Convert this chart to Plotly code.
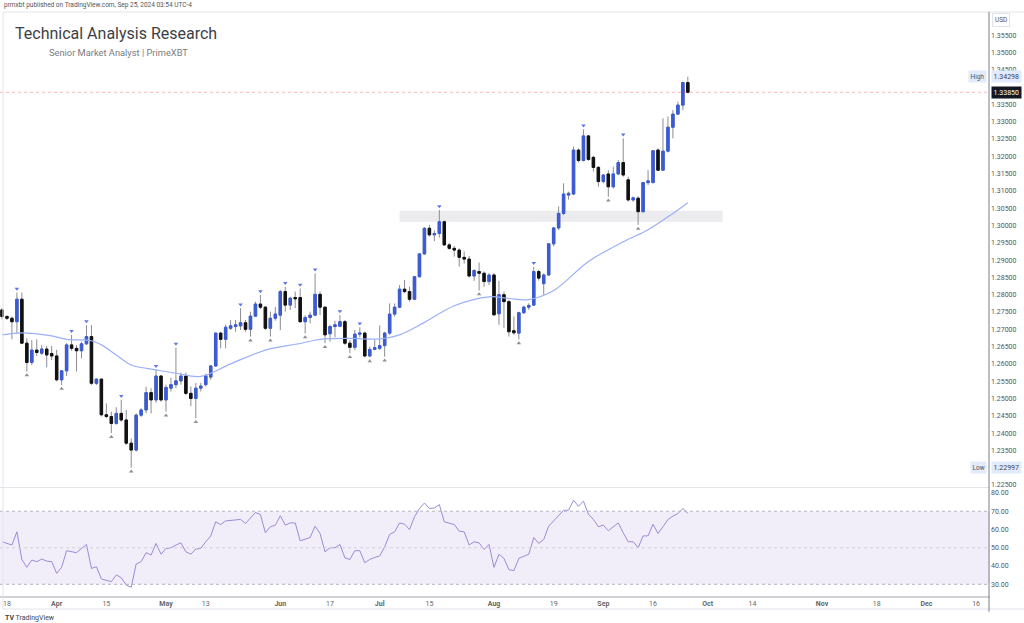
import numpy as np
import pandas as pd
import plotly.graph_objects as go
from plotly.subplots import make_subplots

# daily candles, GBP/USD style, Mar 15 -> Sep 25 2024 (weekdays)
dates = pd.bdate_range("2024-03-15", "2024-09-25")

opens = [1.2756, 1.2737, 1.2732, 1.2722, 1.2787, 1.2660, 1.2604, 1.2640, 1.2631, 1.2643,
         1.2630, 1.2623, 1.2554, 1.2580, 1.2655, 1.2645, 1.2638, 1.2658, 1.2679, 1.2544,
         1.2556, 1.2453, 1.2448, 1.2428, 1.2457, 1.2438, 1.2371, 1.2351, 1.2452, 1.2467,
         1.2517, 1.2496, 1.2565, 1.2496, 1.2530, 1.2540, 1.2551, 1.2565, 1.2515, 1.2500,
         1.2530, 1.2540, 1.2562, 1.2594, 1.2689, 1.2671, 1.2703, 1.2708, 1.2710, 1.2719,
         1.2700, 1.2738, 1.2773, 1.2764, 1.2703, 1.2732, 1.2741, 1.2809, 1.2770, 1.2792,
         1.2792, 1.2722, 1.2734, 1.2741, 1.2801, 1.2764, 1.2687, 1.2708, 1.2709, 1.2722,
         1.2660, 1.2648, 1.2686, 1.2689, 1.2623, 1.2642, 1.2645, 1.2653, 1.2689, 1.2744,
         1.2764, 1.2816, 1.2809, 1.2787, 1.2852, 1.2918, 1.2992, 1.2973, 1.2977, 1.3011,
         1.2944, 1.2934, 1.2929, 1.2908, 1.2903, 1.2854, 1.2867, 1.2862, 1.2838, 1.2857,
         1.2745, 1.2800, 1.2780, 1.2696, 1.2689, 1.2748, 1.2764, 1.2770, 1.2867, 1.2832,
         1.2857, 1.2947, 1.2993, 1.3035, 1.3088, 1.3091, 1.3218, 1.3188, 1.3259, 1.3197,
         1.3168, 1.3127, 1.3149, 1.3112, 1.3149, 1.3182, 1.3132, 1.3074, 1.3079, 1.3040,
         1.3124, 1.3124, 1.3218, 1.3160, 1.3215, 1.3284, 1.3322, 1.3348, 1.3413]
highs = [1.2761, 1.2741, 1.2737, 1.2806, 1.2806, 1.2674, 1.2669, 1.2671, 1.2655, 1.2652,
         1.2652, 1.2641, 1.2582, 1.2660, 1.2684, 1.2655, 1.2664, 1.2712, 1.2712, 1.2558,
         1.2558, 1.2486, 1.2462, 1.2475, 1.2496, 1.2467, 1.2385, 1.2457, 1.2472, 1.2534,
         1.2530, 1.2583, 1.2568, 1.2540, 1.2560, 1.2647, 1.2575, 1.2575, 1.2535, 1.2545,
         1.2545, 1.2572, 1.2597, 1.2690, 1.2693, 1.2713, 1.2727, 1.2727, 1.2761, 1.2727,
         1.2751, 1.2780, 1.2799, 1.2767, 1.2751, 1.2765, 1.2814, 1.2823, 1.2794, 1.2809,
         1.2818, 1.2741, 1.2751, 1.2862, 1.2809, 1.2766, 1.2713, 1.2725, 1.2741, 1.2727,
         1.2669, 1.2698, 1.2706, 1.2693, 1.2650, 1.2669, 1.2711, 1.2693, 1.2775, 1.2775,
         1.2828, 1.2843, 1.2823, 1.2854, 1.2920, 1.2995, 1.3002, 1.2986, 1.3045, 1.3014,
         1.2949, 1.2941, 1.2934, 1.2925, 1.2912, 1.2874, 1.2893, 1.2867, 1.2862, 1.2862,
         1.2840, 1.2809, 1.2785, 1.2737, 1.2751, 1.2768, 1.2775, 1.2881, 1.2872, 1.2862,
         1.2949, 1.2995, 1.3055, 1.3122, 1.3098, 1.3228, 1.3223, 1.3278, 1.3262, 1.3201,
         1.3172, 1.3149, 1.3160, 1.3170, 1.3189, 1.3252, 1.3141, 1.3084, 1.3084, 1.3126,
         1.3160, 1.3218, 1.3223, 1.3310, 1.3315, 1.3334, 1.3358, 1.3416, 1.3430]
lows = [1.2729, 1.2727, 1.2671, 1.2688, 1.2658, 1.2578, 1.2597, 1.2623, 1.2626, 1.2590,
        1.2611, 1.2550, 1.2539, 1.2565, 1.2638, 1.2578, 1.2616, 1.2655, 1.2539, 1.2539,
        1.2448, 1.2443, 1.2400, 1.2424, 1.2433, 1.2366, 1.2300, 1.2347, 1.2447, 1.2457,
        1.2457, 1.2488, 1.2491, 1.2462, 1.2520, 1.2530, 1.2540, 1.2510, 1.2478, 1.2443,
        1.2520, 1.2535, 1.2554, 1.2592, 1.2645, 1.2645, 1.2698, 1.2693, 1.2698, 1.2693,
        1.2679, 1.2737, 1.2758, 1.2698, 1.2679, 1.2725, 1.2698, 1.2751, 1.2756, 1.2761,
        1.2719, 1.2688, 1.2717, 1.2738, 1.2741, 1.2660, 1.2664, 1.2677, 1.2706, 1.2655,
        1.2631, 1.2640, 1.2677, 1.2619, 1.2619, 1.2640, 1.2640, 1.2621, 1.2684, 1.2737,
        1.2761, 1.2804, 1.2780, 1.2785, 1.2850, 1.2915, 1.2968, 1.2955, 1.2965, 1.2941,
        1.2930, 1.2910, 1.2881, 1.2890, 1.2850, 1.2840, 1.2812, 1.2823, 1.2828, 1.2739,
        1.2713, 1.2704, 1.2679, 1.2684, 1.2671, 1.2744, 1.2756, 1.2768, 1.2841, 1.2800,
        1.2855, 1.2940, 1.2987, 1.3030, 1.3075, 1.3088, 1.3182, 1.3185, 1.3187, 1.3156,
        1.3112, 1.3122, 1.3083, 1.3107, 1.3146, 1.3141, 1.3069, 1.3069, 1.3002, 1.3037,
        1.3117, 1.3122, 1.3158, 1.3158, 1.3211, 1.3252, 1.3319, 1.3333, 1.3382]
closes = [1.2737, 1.2732, 1.2722, 1.2787, 1.2660, 1.2604, 1.2640, 1.2633, 1.2643, 1.2626,
          1.2623, 1.2554, 1.2580, 1.2655, 1.2645, 1.2638, 1.2658, 1.2679, 1.2544, 1.2556,
          1.2453, 1.2448, 1.2428, 1.2457, 1.2438, 1.2371, 1.2351, 1.2452, 1.2467, 1.2517,
          1.2496, 1.2565, 1.2496, 1.2532, 1.2540, 1.2551, 1.2565, 1.2515, 1.2500, 1.2530,
          1.2536, 1.2566, 1.2594, 1.2689, 1.2671, 1.2706, 1.2710, 1.2713, 1.2719, 1.2700,
          1.2738, 1.2773, 1.2764, 1.2703, 1.2732, 1.2744, 1.2809, 1.2770, 1.2790, 1.2788,
          1.2722, 1.2734, 1.2741, 1.2801, 1.2764, 1.2684, 1.2708, 1.2713, 1.2722, 1.2660,
          1.2648, 1.2686, 1.2689, 1.2623, 1.2642, 1.2647, 1.2653, 1.2689, 1.2744, 1.2764,
          1.2816, 1.2809, 1.2787, 1.2852, 1.2918, 1.2992, 1.2973, 1.2977, 1.3011, 1.2944,
          1.2934, 1.2929, 1.2908, 1.2903, 1.2854, 1.2870, 1.2862, 1.2838, 1.2857, 1.2742,
          1.2800, 1.2780, 1.2693, 1.2690, 1.2748, 1.2764, 1.2769, 1.2867, 1.2848, 1.2857,
          1.2947, 1.2993, 1.3035, 1.3091, 1.3093, 1.3218, 1.3188, 1.3259, 1.3191, 1.3168,
          1.3127, 1.3146, 1.3112, 1.3149, 1.3182, 1.3146, 1.3074, 1.3080, 1.3040, 1.3124,
          1.3129, 1.3216, 1.3160, 1.3215, 1.3284, 1.3322, 1.3348, 1.3413, 1.3385]

# RSI(14)
rsi = [53.3, 52.4, 51.5, 58.7, 43.6, 39.3, 43.3, 42.4, 43.8, 42.7,
       42.4, 36.0, 39.3, 48.4, 47.8, 47.3, 49.6, 51.8, 38.7, 39.6,
       32.9, 32.4, 31.5, 35.1, 33.6, 29.6, 28.4, 41.1, 42.4, 47.3,
       46.0, 52.4, 46.5, 49.6, 50.0, 51.5, 52.7, 47.8, 46.5, 49.3,
       49.6, 53.3, 56.4, 64.2, 62.7, 64.7, 65.1, 65.1, 65.5, 63.3,
       66.5, 69.3, 68.2, 58.2, 61.5, 62.4, 67.5, 62.4, 63.6, 63.6,
       53.8, 54.5, 55.6, 61.8, 57.8, 47.8, 50.0, 50.0, 51.8, 44.5,
       43.6, 48.4, 48.4, 41.8, 43.6, 44.7, 45.5, 50.5, 57.3, 58.7,
       63.6, 62.9, 60.0, 66.9, 71.5, 74.5, 71.5, 71.8, 73.6, 64.2,
       63.3, 62.7, 59.1, 58.7, 51.5, 53.3, 52.7, 49.1, 51.8, 39.3,
       46.5, 44.2, 38.0, 37.5, 44.2, 45.5, 46.5, 55.6, 52.4, 54.5,
       61.8, 64.7, 67.8, 70.5, 70.5, 76.0, 72.7, 75.5, 68.4, 65.5,
       61.5, 62.4, 59.3, 61.5, 63.6, 58.2, 53.3, 53.3, 50.0, 56.5,
       56.5, 62.9, 57.8, 61.5, 65.5, 67.3, 68.7, 71.5, 68.7]

# moving average, sampled along the light blue line
ma_idx = [0, 4, 10, 13, 18, 20, 23, 26, 31, 35, 40, 46, 53, 60, 64, 70, 76, 80, 85,
          91, 98, 102, 106, 111, 118, 125, 130, 135, 138]
ma_vals = [1.2684, 1.2690, 1.2681, 1.2671, 1.2667, 1.2655, 1.2626, 1.2597, 1.2583,
           1.2573, 1.2564, 1.2600, 1.2640, 1.2659, 1.2671, 1.2674, 1.2672, 1.2684,
           1.2720, 1.2768, 1.2794, 1.2789, 1.2786, 1.2812, 1.2896, 1.2953, 1.2988,
           1.3035, 1.3066]

# fractal marks
frac_high_idx = [3, 14, 17, 24, 31, 35, 48, 52, 57, 60, 63, 68, 72, 88, 107, 117, 125]
frac_low_idx = [5, 12, 22, 26, 33, 39, 50, 54, 61, 65, 70, 74, 77, 96, 104, 122, 128]

zone_low, zone_high = 1.3011, 1.3043
zone_start, zone_end = "2024-07-05", "2024-10-04"
last_price, range_high, range_low = 1.33850, 1.34298, 1.22997

tick_dates = ["2024-03-18", "2024-04-01", "2024-04-15", "2024-05-01", "2024-05-13",
              "2024-06-03", "2024-06-17", "2024-07-01", "2024-07-15", "2024-08-01",
              "2024-08-19", "2024-09-02", "2024-09-16", "2024-10-01", "2024-10-14",
              "2024-11-01", "2024-11-18", "2024-12-02", "2024-12-16"]
tick_text = ["18", "<b>Apr</b>", "15", "<b>May</b>", "13", "<b>Jun</b>", "17", "<b>Jul</b>",
             "15", "<b>Aug</b>", "19", "<b>Sep</b>", "16", "<b>Oct</b>", "14", "<b>Nov</b>",
             "18", "<b>Dec</b>", "16"]
# 1.230 and 1.340 sit under the Low / last-price labels, so they are not shown
price_ticks = [round(1.225 + 0.005 * i, 3) for i in range(27)]
price_ticks = [t for t in price_ticks if t not in (1.23, 1.34)]
rsi_ticks = [30, 40, 50, 60, 70, 80]

BLUE = "#3b5bd6"
BLACK = "#111111"
WICK = "#8a8d96"
FONT = "Roboto"

o = np.array(opens)
c = np.array(closes)

fig = make_subplots(rows=2, cols=1, shared_xaxes=True, vertical_spacing=0.0)

# wicks (grey)
fig.add_trace(go.Candlestick(
    x=dates, open=opens, high=highs, low=lows, close=closes,
    increasing=dict(line=dict(color=WICK, width=1), fillcolor=WICK),
    decreasing=dict(line=dict(color=WICK, width=1), fillcolor=WICK),
    hoverinfo="skip", showlegend=False), row=1, col=1)
# bodies
fig.add_trace(go.Candlestick(
    x=dates, open=opens, close=closes,
    high=np.maximum(o, c), low=np.minimum(o, c),
    increasing=dict(line=dict(color=BLUE, width=1), fillcolor=BLUE),
    decreasing=dict(line=dict(color=BLACK, width=1), fillcolor=BLACK),
    showlegend=False), row=1, col=1)

fig.add_trace(go.Scatter(
    x=dates[ma_idx], y=ma_vals, mode="lines",
    line=dict(color="#9bb0f7", width=1.2, shape="spline"),
    hoverinfo="skip", showlegend=False), row=1, col=1)

fig.add_trace(go.Scatter(
    x=dates[frac_high_idx], y=[highs[i] + 0.0011 for i in frac_high_idx], mode="markers",
    marker=dict(symbol="triangle-down", size=4, color="#5b78e6"),
    hoverinfo="skip", showlegend=False), row=1, col=1)
fig.add_trace(go.Scatter(
    x=dates[frac_low_idx], y=[lows[i] - 0.0011 for i in frac_low_idx], mode="markers",
    marker=dict(symbol="triangle-up", size=4, color="#8c8f99"),
    hoverinfo="skip", showlegend=False), row=1, col=1)

fig.add_trace(go.Scatter(
    x=dates, y=rsi, mode="lines", line=dict(color="#9c8ad9", width=1),
    showlegend=False), row=2, col=1)

# price zone + last price line
fig.add_shape(type="rect", xref="x", yref="y", x0=zone_start, x1=zone_end,
              y0=zone_low, y1=zone_high, fillcolor="rgba(120,123,134,0.14)",
              line_width=0, layer="below")
fig.add_shape(type="line", xref="paper", yref="y", x0=0, x1=1, y0=last_price, y1=last_price,
              line=dict(color="rgba(242,54,69,0.35)", width=1, dash="dot"))

# RSI band and levels
fig.add_shape(type="rect", xref="paper", yref="y2", x0=0, x1=1, y0=30, y1=70,
              fillcolor="rgba(126,87,194,0.10)", line_width=0, layer="below")
for lvl, col in [(70, "#b6b3c2"), (50, "#d2d0da"), (30, "#b6b3c2")]:
    fig.add_shape(type="line", xref="paper", yref="y2", x0=0, x1=1, y0=lvl, y1=lvl,
                  line=dict(color=col, width=1, dash="dot"))

# frame lines
frame = "#e3e5ea"
fig.add_shape(type="line", xref="paper", yref="paper", x0=0.003, x1=1.04, y0=1, y1=1,
              line=dict(color=frame, width=1))
fig.add_shape(type="line", xref="paper", yref="paper", x0=0.003, x1=0.003, y0=1, y1=-0.0223,
              line=dict(color=frame, width=1))
fig.add_shape(type="line", xref="paper", yref="paper", x0=0.003, x1=1.04, y0=-0.0223, y1=-0.0223,
              line=dict(color=frame, width=1))
fig.add_shape(type="line", xref="paper", yref="paper", x0=0.999, x1=0.999, y0=1, y1=-0.027,
              line=dict(color="#7c7f88", width=1))

ann = [
    dict(text="prmxbt published on TradingView.com, Sep 25, 2024 03:54 UTC-4",
         x=0.002, y=1.0125, xanchor="left", yanchor="middle",
         font=dict(size=6.5, color="#555")),
    dict(text="Technical Analysis Research", x=0.0135, y=0.964, xanchor="left",
         yanchor="middle", font=dict(size=16, color="#3d3f45")),
    dict(text="Senior Market Analyst | PrimeXBT", x=0.0475, y=0.930, xanchor="left",
         yanchor="middle", font=dict(size=9.3, color="#7a7c82")),
    dict(text="<b>TV</b> TradingView", x=0.003, y=-0.0377, xanchor="left", yanchor="middle",
         font=dict(size=7, color="#444")),
    dict(text="USD", x=1.0111, y=0.9863, xanchor="center", yanchor="middle",
         font=dict(size=6.5, color="#555"), bordercolor="#e0e3eb", borderwidth=1,
         borderpad=2, bgcolor="white"),
]
for a in ann:
    fig.add_annotation(xref="paper", yref="paper", showarrow=False,
                       font_family=FONT, **{k: v for k, v in a.items()})

for label, val in [("High", range_high), ("Low", range_low)]:
    fig.add_annotation(xref="paper", yref="y", x=0.997, y=val, text=label,
                       xanchor="right", yanchor="middle", showarrow=False,
                       font=dict(size=6.5, color="#555", family=FONT), bgcolor="#e2ebfb",
                       borderpad=1.5)
    fig.add_annotation(xref="paper", yref="y", x=1.001, y=val, text=f"{val:.5f}",
                       xanchor="left", yanchor="middle", showarrow=False,
                       font=dict(size=7, color="#444", family=FONT), bgcolor="#e2ebfb",
                       borderpad=1.5)
fig.add_annotation(xref="paper", yref="y", x=1.001, y=last_price, text=f"{last_price:.5f}",
                   xanchor="left", yanchor="middle", showarrow=False,
                   font=dict(size=7, color="white", family=FONT), bgcolor="#131722",
                   borderpad=1.5)

x_range = ["2024-03-14 14:24", "2024-12-18 19:12"]
breaks = [dict(bounds=["sat", "mon"])]

fig.update_layout(
    width=1024, height=623,
    margin=dict(l=0, r=34, t=12, b=27),
    paper_bgcolor="white", plot_bgcolor="white",
    showlegend=False, hovermode=False,
    font=dict(family=FONT, size=7, color="#555"),
    xaxis=dict(range=x_range, rangebreaks=breaks, showticklabels=False, showgrid=False,
               rangeslider=dict(visible=False), showline=True, linecolor="#e3e5ea",
               linewidth=1, zeroline=False),
    xaxis2=dict(range=x_range, rangebreaks=breaks, showgrid=False, tickvals=tick_dates,
                ticktext=tick_text, ticks="", showline=True, linecolor="#cfd1d6",
                linewidth=2, tickfont=dict(size=7, color="#666"), zeroline=False,
                rangeslider=dict(visible=False)),
    yaxis=dict(domain=[0.1866, 1.0], range=[1.22442, 1.36171], side="right",
               tickvals=price_ticks, ticktext=[f"{t:.5f}" for t in price_ticks],
               showgrid=False, zeroline=False, ticks="", tickfont=dict(size=7, color="#555")),
    yaxis2=dict(domain=[0.0, 0.1849], range=[23.6, 82.7], side="right",
                tickvals=rsi_ticks, ticktext=[f"{t:.2f}" for t in rsi_ticks],
                showgrid=False, zeroline=False, ticks="", tickfont=dict(size=7, color="#555")),
)

# page body has a default 8px margin; drop it so the figure sits at the window corner
fig.write_html("out.html", config={"displayModeBar": False},
               post_script="document.body.style.margin='0';")
